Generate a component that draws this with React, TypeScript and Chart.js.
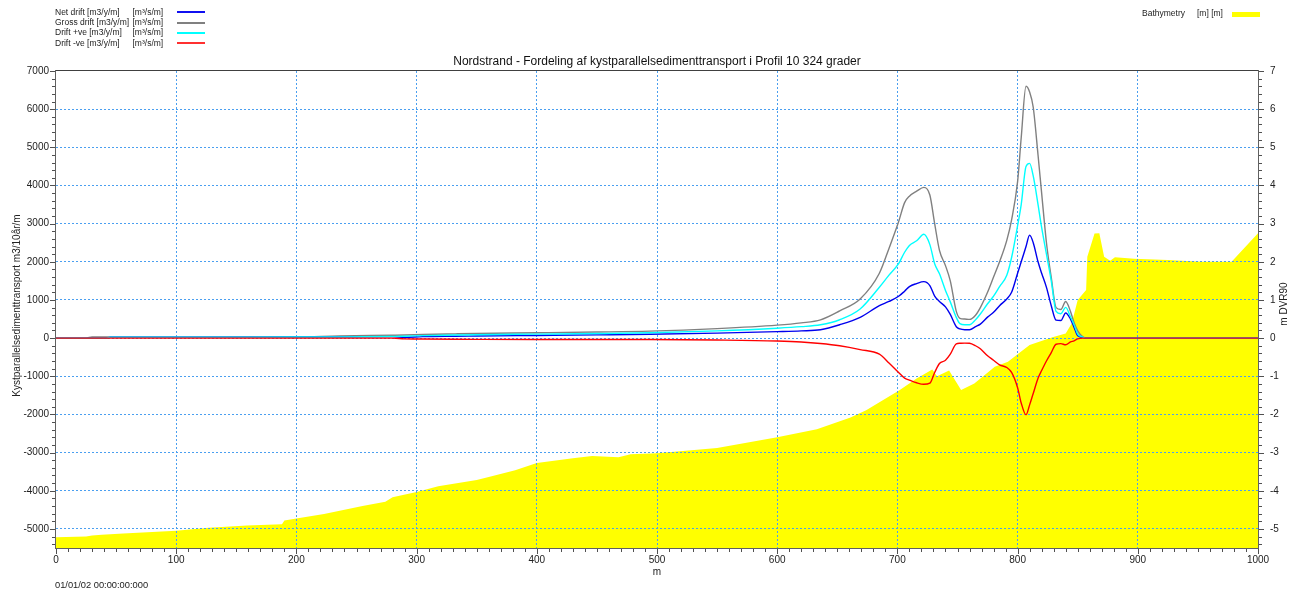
import { useEffect, useRef } from 'react';
import { Chart, registerables } from 'chart.js';

Chart.register(...registerables);

const FONT = '"Liberation Sans", Arial, Helvetica, sans-serif';

// x positions (m) shared by the four drift series
const driftX = [0, 25, 30, 42, 45, 100, 200, 236, 280, 290, 305, 332, 350, 400, 450, 494, 550, 600, 620, 636, 652, 669, 685, 693, 701, 706, 710, 716, 722, 727, 731, 735, 740, 744, 749, 752, 756, 760, 765, 769, 775, 780, 785, 791, 795, 800, 803, 807, 810, 813, 817, 820, 824, 828, 832, 836, 840, 844, 847, 850, 854, 857, 870, 1000];

const grossDrift = [0, 0, 30, 30, 25, 25, 28, 60, 75, 80, 95, 112, 122, 140, 160, 184, 250, 340, 400, 480, 716, 1026, 1700, 2350, 3050, 3550, 3720, 3850, 3950, 3750, 3000, 2300, 1900, 1500, 700, 520, 500, 490, 600, 800, 1200, 1600, 2000, 2560, 3100, 4100, 5250, 6600, 6450, 6050, 4800, 3800, 2500, 1590, 800, 750, 960, 700, 400, 190, 40, 0, 0, 0];

const posDrift = [0, 0, 0, 0, 25, 25, 28, 30, 45, 50, 65, 80, 90, 105, 120, 140, 190, 260, 300, 350, 482, 763, 1333, 1650, 1950, 2250, 2430, 2550, 2720, 2450, 1950, 1684, 1250, 950, 544, 380, 350, 350, 480, 631, 900, 1100, 1350, 1650, 2113, 2950, 3500, 4500, 4580, 4250, 3500, 2900, 2200, 1500, 700, 640, 805, 560, 350, 105, 30, 0, 0, 0];

const netDrift = [0, 0, 0, 0, 25, 25, 28, 30, 40, 20, 40, 50, 55, 70, 85, 100, 130, 170, 190, 220, 350, 544, 851, 960, 1096, 1230, 1350, 1430, 1480, 1377, 1100, 960, 820, 620, 298, 240, 220, 220, 300, 368, 550, 675, 850, 1026, 1200, 1700, 2000, 2400, 2700, 2500, 2000, 1700, 1330, 850, 470, 460, 660, 500, 280, 60, 20, 0, 0, 0];

const negDrift = [0, 0, 0, 0, 0, 0, 0, 0, 0, -20, -25, -30, -32, -35, -35, -38, -50, -75, -100, -140, -200, -300, -420, -650, -900, -1050, -1100, -1170, -1210, -1180, -900, -665, -580, -420, -150, -135, -130, -135, -200, -280, -464, -580, -700, -770, -900, -1300, -1700, -2010, -1750, -1450, -1050, -850, -600, -380, -160, -145, -175, -100, -70, -20, 0, 0, 0, 0];

// Bathymetry (m DVR90)
const bathyX = [0, 25, 30, 38, 56, 80, 100, 127, 159, 188, 190, 200, 223, 255, 274, 280, 300, 318, 350, 360, 382, 400, 430, 446, 468, 478, 500, 550, 600, 633, 661, 674, 702, 716, 729, 733, 743, 753, 764, 781, 792, 800, 810, 829, 840, 845, 850, 857, 858, 864, 868, 872, 877, 881, 897, 925, 953, 978, 1000];
const bathyDepth = [-5.22, -5.2, -5.17, -5.15, -5.12, -5.08, -5.05, -4.97, -4.91, -4.88, -4.78, -4.73, -4.61, -4.4, -4.29, -4.17, -4.03, -3.88, -3.72, -3.64, -3.46, -3.27, -3.15, -3.09, -3.12, -3.04, -3.02, -2.88, -2.6, -2.39, -2.08, -1.89, -1.36, -1.06, -0.82, -1.0, -0.85, -1.36, -1.19, -0.75, -0.62, -0.42, -0.18, 0.02, 0.12, 0.38, 1.0, 1.26, 2.13, 2.74, 2.75, 2.13, 2.03, 2.12, 2.08, 2.05, 2.0, 2.0, 2.75];

const xTickValues = [0, 100, 200, 300, 400, 500, 600, 700, 800, 900, 1000];
const leftTickValues = [-5000, -4000, -3000, -2000, -1000, 0, 1000, 2000, 3000, 4000, 5000, 6000, 7000];
const rightTickValues = [-5, -4, -3, -2, -1, 0, 1, 2, 3, 4, 5, 6, 7];

const legendRows = [
  { name: 'Net drift [m3/y/m]', unit: '[m³/s/m]', color: '#1010f0' },
  { name: 'Gross drift [m3/y/m]', unit: '[m³/s/m]', color: '#808080' },
  { name: 'Drift +ve [m3/y/m]', unit: '[m³/s/m]', color: '#00ffff' },
  { name: 'Drift -ve [m3/y/m]', unit: '[m³/s/m]', color: '#ff3030' },
];

const TITLE = 'Nordstrand - Fordeling af kystparallelsedimenttransport i Profil 10 324 grader';
const GRID = '#4a9ff0';

const overlayPlugin = {
  id: 'overlay',
  afterDatasetDraw(chart: any, args: any) {
    if (args.index === 4) {
      chart.scales.x.drawGrid(chart.chartArea);
      chart.scales.y.drawGrid(chart.chartArea);
    }
  },
  afterDraw(chart: any) {
    const ctx = chart.ctx as CanvasRenderingContext2D;
    const { left, right, top, bottom } = chart.chartArea;
    const sx = chart.scales.x;
    const sy = chart.scales.y;
    const sy2 = chart.scales.y2;
    ctx.save();
    // frame
    ctx.fillStyle = '#404040';
    ctx.fillRect(left - 1, top - 1, right - left + 2, 1);
    ctx.fillStyle = '#606060';
    ctx.fillRect(left - 1, top - 1, 1, bottom - top + 2);
    ctx.fillRect(right, top - 1, 1, bottom - top + 2);
    ctx.fillRect(left - 1, bottom, right - left + 2, 1);
    // ticks
    ctx.fillStyle = '#505050';
    for (let v = -5400; v <= 7000; v += 200) {
      const p = Math.round(sy.getPixelForValue(v));
      const major = v % 1000 === 0;
      const len = major ? 5 : 3;
      ctx.fillRect(left - 1 - len, p, len, 1);
    }
    for (let k = -27; k <= 35; k++) {
      const v = k / 5;
      const p = Math.round(sy2.getPixelForValue(v));
      const major = k % 5 === 0;
      const len = major ? 5 : 3;
      ctx.fillRect(right + 1, p, len, 1);
    }
    for (let v = 0; v <= 1000; v += 10) {
      const p = Math.round(sx.getPixelForValue(v));
      const major = v % 100 === 0;
      const len = major ? 5 : 3;
      ctx.fillRect(p, bottom + 1, 1, len);
    }
    // texts
    ctx.fillStyle = '#111';
    ctx.textBaseline = 'middle';
    ctx.textAlign = 'center';
    ctx.font = `12px ${FONT}`;
    ctx.fillText(TITLE, (left + right) / 2, 62);
    ctx.font = `10px ${FONT}`;
    ctx.fillStyle = '#222';
    ctx.fillText('m', (left + right) / 2, 572);
    ctx.save();
    ctx.translate(17, (top + bottom) / 2 - 4);
    ctx.rotate(-Math.PI / 2);
    ctx.fillText('Kystparallelsedimenttransport m3/10år/m', 0, 0);
    ctx.restore();
    ctx.save();
    ctx.translate(1284, 304);
    ctx.rotate(-Math.PI / 2);
    ctx.fillText('m DVR90', 0, 0);
    ctx.restore();
    // timestamp
    ctx.textAlign = 'left';
    ctx.font = `9.3px ${FONT}`;
    ctx.fillText('01/01/02 00:00:00:000', 55, 585);
    // legend left
    ctx.font = `8.5px ${FONT}`;
    legendRows.forEach((r, i) => {
      const y = 12.3 + i * 10.3;
      ctx.fillStyle = '#222';
      ctx.fillText(r.name, 55, y);
      ctx.fillText(r.unit, 132.5, y);
      ctx.fillStyle = r.color;
      ctx.fillRect(177, Math.round(y) - 1, 28, 2);
    });
    // legend right
    ctx.fillStyle = '#222';
    ctx.fillText('Bathymetry', 1142, 13.3);
    ctx.fillText('[m] [m]', 1197, 13.3);
    ctx.fillStyle = '#ffff00';
    ctx.fillRect(1232, 12, 28, 5);
    ctx.restore();
  },
};

function pts(xs: number[], ys: number[]) {
  return xs.map((x, i) => ({ x, y: ys[i] }));
}

const plainLabel = (v: any) => String(v);

export default function App() {
  const ref = useRef<HTMLCanvasElement | null>(null);
  useEffect(() => {
    if (!ref.current) return;
    const lineCommon = {
      yAxisID: 'y',
      borderWidth: 1.4,
      pointRadius: 0,
      fill: false,
      cubicInterpolationMode: 'monotone' as const,
    };
    const chart = new Chart(ref.current, {
      type: 'line',
      data: {
        datasets: [
          { ...lineCommon, label: 'Drift -ve', data: pts(driftX, negDrift), borderColor: '#ff0000' },
          { ...lineCommon, label: 'Drift +ve', data: pts(driftX, posDrift), borderColor: '#00ffff' },
          { ...lineCommon, label: 'Net drift', data: pts(driftX, netDrift), borderColor: '#0000ee' },
          { ...lineCommon, label: 'Gross drift', data: pts(driftX, grossDrift), borderColor: '#808080' },
          {
            label: 'Bathymetry',
            data: pts(bathyX, bathyDepth),
            yAxisID: 'y2',
            borderWidth: 0,
            borderColor: 'rgba(0,0,0,0)',
            backgroundColor: '#ffff00',
            pointRadius: 0,
            fill: 'start',
            tension: 0,
          },
        ],
      },
      options: {
        animation: false,
        responsive: false,
        maintainAspectRatio: false,
        events: [],
        layout: { padding: { top: 71, left: 0, right: 0, bottom: 0 } },
        plugins: {
          legend: { display: false },
          tooltip: { enabled: false },
          title: { display: false },
        },
        scales: {
          x: {
            type: 'linear',
            min: 0,
            max: 1000,
            afterBuildTicks: (s: any) => { s.ticks = xTickValues.map((value) => ({ value })); },
            afterFit: (s: any) => { s.height = 44; },
            border: { display: false, dash: [2, 2] },
            grid: {
              drawTicks: false,
              color: (c: any) => (c.tick && c.tick.value > 0 && c.tick.value < 1000 ? GRID : 'rgba(0,0,0,0)'),
              lineWidth: 1,
            },
            ticks: { padding: 6, autoSkip: false, maxRotation: 0, color: '#222', font: { family: FONT, size: 10 }, callback: plainLabel },
          },
          y: {
            type: 'linear',
            position: 'left',
            min: -5500,
            max: 7000,
            afterBuildTicks: (s: any) => { s.ticks = leftTickValues.map((value) => ({ value })); },
            afterFit: (s: any) => { s.width = 56; },
            border: { display: false, dash: [2, 2] },
            grid: {
              drawTicks: false,
              color: (c: any) => (c.tick && c.tick.value < 7000 ? GRID : 'rgba(0,0,0,0)'),
              lineWidth: 1,
            },
            ticks: { padding: 7, autoSkip: false, color: '#222', font: { family: FONT, size: 10 }, callback: plainLabel },
          },
          y2: {
            type: 'linear',
            position: 'right',
            min: -5.5,
            max: 7,
            afterBuildTicks: (s: any) => { s.ticks = rightTickValues.map((value) => ({ value })); },
            afterFit: (s: any) => { s.width = 39; },
            border: { display: false },
            grid: { display: false, drawTicks: false },
            ticks: { padding: 12, autoSkip: false, color: '#222', font: { family: FONT, size: 10 }, callback: plainLabel },
          },
        },
      },
      plugins: [overlayPlugin],
    } as any);
    return () => chart.destroy();
  }, []);
  return (
    <div style={{ position: 'fixed', left: 0, top: 0, width: 1297, height: 592, background: '#fff' }}>
      <canvas ref={ref} width={1297} height={592} style={{ display: 'block', width: 1297, height: 592 }} />
    </div>
  );
}
